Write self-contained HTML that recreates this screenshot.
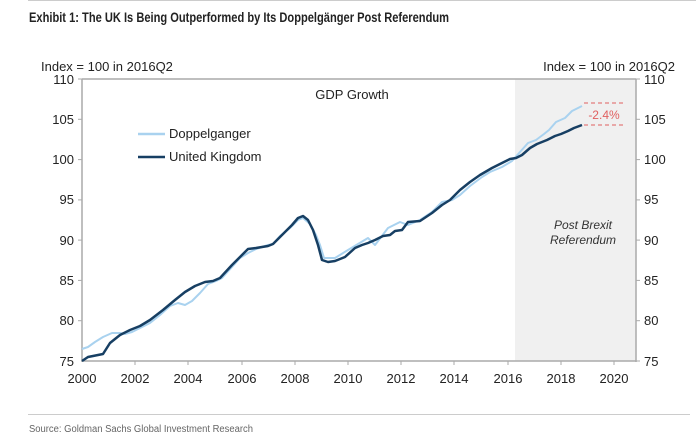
<!DOCTYPE html>
<html><head><meta charset="utf-8"><style>
body{margin:0;background:#fff;width:696px;height:443px;overflow:hidden;font-family:"Liberation Sans",sans-serif}
</style></head><body>
<svg width="696" height="443" xmlns="http://www.w3.org/2000/svg" font-family="Liberation Sans, sans-serif">
<line x1="28" y1="0.5" x2="696" y2="0.5" stroke="#ccc"/>
<text x="29" y="22" font-size="13.5" font-weight="bold" fill="#222" textLength="420" lengthAdjust="spacingAndGlyphs">Exhibit 1: The UK Is Being Outperformed by Its Doppelgänger Post Referendum</text>
<rect x="515" y="79" width="121" height="282" fill="#f0f0f0"/>
<g stroke="#aaa" stroke-width="1.5" fill="none">
<line x1="82" y1="79" x2="636" y2="79"/>
<line x1="82" y1="79" x2="82" y2="362"/>
<line x1="636" y1="79" x2="636" y2="362"/>
<line x1="82" y1="361" x2="636" y2="361"/>
</g>
<g stroke="#aaa" stroke-width="1">
<line x1="78" y1="79" x2="82" y2="79"/><line x1="78" y1="119.3" x2="82" y2="119.3"/><line x1="78" y1="159.6" x2="82" y2="159.6"/><line x1="78" y1="199.9" x2="82" y2="199.9"/><line x1="78" y1="240.1" x2="82" y2="240.1"/><line x1="78" y1="280.4" x2="82" y2="280.4"/><line x1="78" y1="320.7" x2="82" y2="320.7"/>
<line x1="636" y1="79" x2="640" y2="79"/><line x1="636" y1="119.3" x2="640" y2="119.3"/><line x1="636" y1="159.6" x2="640" y2="159.6"/><line x1="636" y1="199.9" x2="640" y2="199.9"/><line x1="636" y1="240.1" x2="640" y2="240.1"/><line x1="636" y1="280.4" x2="640" y2="280.4"/><line x1="636" y1="320.7" x2="640" y2="320.7"/><line x1="636" y1="361" x2="640" y2="361"/>
<line x1="135" y1="361" x2="135" y2="365"/><line x1="188" y1="361" x2="188" y2="365"/><line x1="242" y1="361" x2="242" y2="365"/><line x1="295" y1="361" x2="295" y2="365"/><line x1="348" y1="361" x2="348" y2="365"/><line x1="401" y1="361" x2="401" y2="365"/><line x1="454" y1="361" x2="454" y2="365"/><line x1="508" y1="361" x2="508" y2="365"/><line x1="561" y1="361" x2="561" y2="365"/><line x1="614" y1="361" x2="614" y2="365"/>
</g>
<g font-size="13" fill="#222" text-anchor="end">
<text x="74" y="84">110</text><text x="74" y="124">105</text><text x="74" y="164">100</text><text x="74" y="204">95</text><text x="74" y="245">90</text><text x="74" y="285">85</text><text x="74" y="325">80</text><text x="74" y="366">75</text>
</g>
<g font-size="13" fill="#222" text-anchor="start">
<text x="644" y="84">110</text><text x="644" y="124">105</text><text x="644" y="164">100</text><text x="644" y="204">95</text><text x="644" y="245">90</text><text x="644" y="285">85</text><text x="644" y="325">80</text><text x="644" y="366">75</text>
</g>
<g font-size="13" fill="#222" text-anchor="middle">
<text x="82" y="383">2000</text><text x="135" y="383">2002</text><text x="188" y="383">2004</text><text x="242" y="383">2006</text><text x="295" y="383">2008</text><text x="348" y="383">2010</text><text x="401" y="383">2012</text><text x="454" y="383">2014</text><text x="508" y="383">2016</text><text x="561" y="383">2018</text><text x="614" y="383">2020</text>
</g>
<text x="41" y="71" font-size="13" fill="#222">Index = 100 in 2016Q2</text>
<text x="675" y="71" font-size="13" fill="#222" text-anchor="end">Index = 100 in 2016Q2</text>
<text x="352" y="99" font-size="13" fill="#222" text-anchor="middle">GDP Growth</text>
<text x="583" y="229" font-size="12" font-style="italic" fill="#333" text-anchor="middle">Post Brexit</text>
<text x="583" y="244" font-size="12" font-style="italic" fill="#333" text-anchor="middle">Referendum</text>
<line x1="138" y1="134" x2="165" y2="134" stroke="#a9d2ef" stroke-width="2.5"/>
<text x="169" y="138" font-size="13" fill="#222">Doppelganger</text>
<line x1="138" y1="157" x2="165" y2="157" stroke="#173f63" stroke-width="2.5"/>
<text x="169" y="161" font-size="13" fill="#222">United Kingdom</text>
<polyline fill="none" stroke="#a9d2ef" stroke-width="2" stroke-linejoin="round" points="82,349 88,347 95,342 103,337 112,333 120,333 125,334 132,332 140,328 150,323 160,315 170,306 178,303 185,305 192,301 200,293 208,284 216,281 222,278 232,267 240,258 248,253 256,249 262,247 268,245 273,244 280,236 290,228 298,220 303,218 310,224 316,235 320,245 324,258 335,258 348,250 368,238 375,245 388,228 400,222 408,225 420,220 432,212 442,202 452,200 460,195 470,186 482,177 490,172 502,167 512,161 520,152 528,143 536,140 544,134 549,130 556,122 565,118 572,111 582,106"/>
<polyline fill="none" stroke="#173f63" stroke-width="2.5" stroke-linejoin="round" points="82,361 88,357 103,354 110,343 120,335 130,330 140,326 150,320 163,310 175,300 185,292 195,286 205,282 213,281 220,278 232,265 240,257 248,249 256,248 262,247 268,246 273,244 282,235 292,225 298,218 303,216 308,220 313,230 318,245 322,260 328,262 335,261 345,257 355,248 362,245 368,243 375,240 383,236 390,235 395,231 402,230 408,222 420,221 432,213 442,205 450,200 460,190 470,182 480,175 492,168 502,163 510,159 516,158 522,155 530,148 537,144 547,140 555,136 561,134 568,131 574,128 582,125"/>
<g stroke="#e06060" stroke-width="1" stroke-dasharray="4,3">
<line x1="584" y1="103" x2="623" y2="103"/>
<line x1="584" y1="125" x2="625" y2="125"/>
</g>
<text x="604" y="119" font-size="12" fill="#e06060" text-anchor="middle">-2.4%</text>
<line x1="28" y1="414.5" x2="690" y2="414.5" stroke="#ccc"/>
<text x="29" y="432" font-size="10" fill="#666" textLength="224" lengthAdjust="spacingAndGlyphs">Source: Goldman Sachs Global Investment Research</text>
</svg>
</body></html>
